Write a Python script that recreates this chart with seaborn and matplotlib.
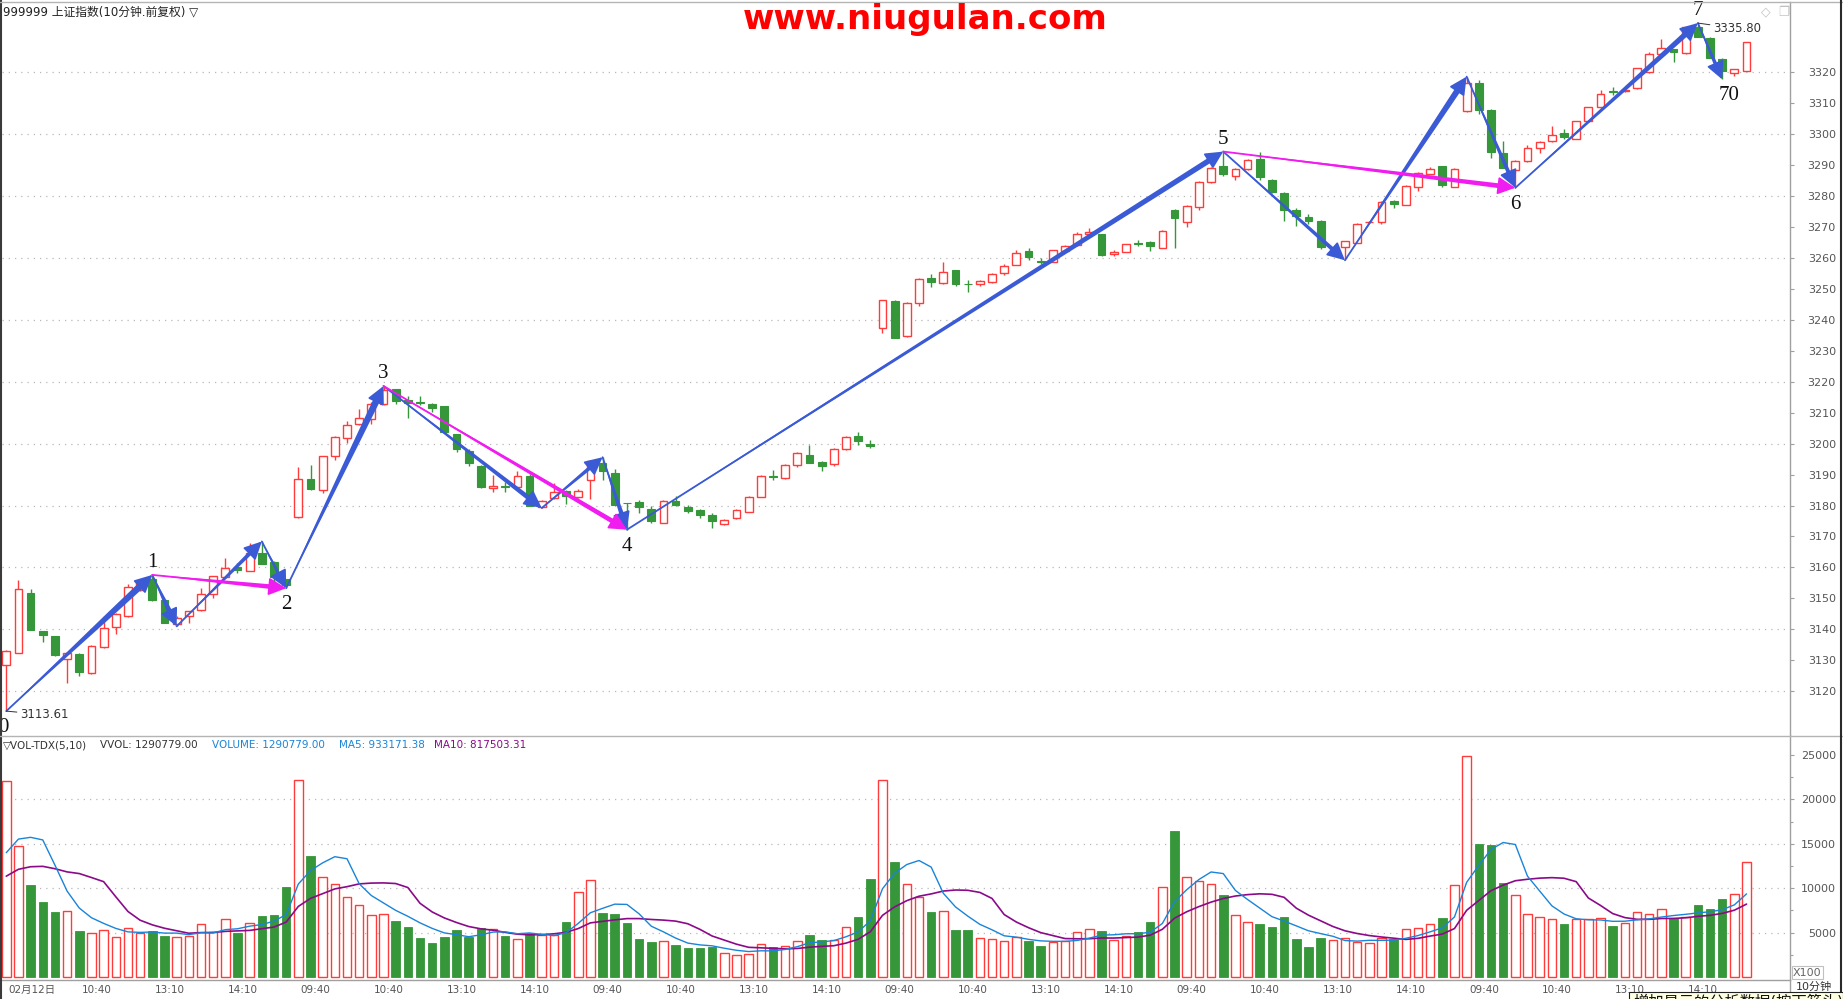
import numpy as np
import pandas as pd
import seaborn as sns
import matplotlib.pyplot as plt
from matplotlib.lines import Line2D
from matplotlib.patches import Rectangle

# ---- data (10-minute bars, 6 sessions x 24 bars) ----
opens = [3128.6, 3132.4, 3151.7, 3139.6, 3138.0, 3130.3, 3132.0, 3125.9, 3134.3, 3140.7, 3144.2, 3152.8,
         3156.3, 3149.4, 3141.8, 3144.4, 3146.3, 3151.4, 3156.9, 3160.2, 3159.0, 3164.6, 3161.9, 3156.2,
         3176.2, 3188.5, 3185.1, 3195.9, 3201.7, 3206.2, 3207.8, 3212.8, 3217.5, 3214.1, 3213.4, 3212.8,
         3212.0, 3203.0, 3197.7, 3192.9, 3185.7, 3186.2, 3185.9, 3189.6, 3179.5, 3182.4, 3184.8, 3182.7,
         3188.3, 3193.8, 3190.6, 3180.9, 3181.0, 3179.0, 3174.4, 3181.6, 3179.4, 3178.7, 3177.1, 3174.1,
         3176.0, 3178.0, 3182.9, 3189.5, 3188.9, 3193.1, 3196.3, 3194.2, 3193.4, 3198.2, 3202.5, 3200.0,
         3237.3, 3245.9, 3234.7, 3245.3, 3253.4, 3251.8, 3256.0, 3251.6, 3251.6, 3252.2, 3255.2, 3257.8,
         3262.1, 3259.1, 3258.7, 3262.1, 3264.0, 3267.8, 3267.6, 3261.1, 3262.0, 3264.7, 3265.1, 3263.3,
         3275.5, 3271.7, 3276.4, 3284.5, 3289.5, 3286.3, 3288.7, 3291.8, 3285.2, 3281.0, 3275.5, 3273.2,
         3271.9, 3263.1, 3263.5, 3264.9, 3271.4, 3271.6, 3278.5, 3277.2, 3282.9, 3287.2, 3289.6, 3283.0,
         3307.3, 3316.5, 3307.7, 3294.0, 3288.5, 3291.2, 3295.6, 3297.6, 3300.2, 3298.5, 3304.1, 3308.6,
         3313.8, 3313.7, 3314.7, 3320.0, 3325.7, 3327.3, 3326.0, 3334.5, 3330.9, 3324.2, 3319.6, 3320.4]
highs = [3133.4, 3156.0, 3153.0, 3139.6, 3138.0, 3132.7, 3132.4, 3134.9, 3144.2, 3145.2, 3154.7, 3156.0,
         3157.6, 3149.6, 3144.2, 3146.1, 3153.3, 3157.3, 3163.0, 3161.3, 3167.9, 3168.4, 3162.1, 3156.4,
         3192.6, 3193.1, 3196.1, 3202.4, 3207.3, 3211.1, 3213.5, 3218.6, 3217.7, 3215.4, 3215.4, 3213.2,
         3212.2, 3203.2, 3198.3, 3193.1, 3190.0, 3187.5, 3191.3, 3190.2, 3181.7, 3187.2, 3185.0, 3185.4,
         3194.7, 3195.6, 3191.8, 3180.9, 3181.8, 3180.0, 3181.7, 3183.1, 3180.2, 3178.9, 3177.6, 3175.5,
         3178.8, 3183.0, 3189.8, 3191.6, 3193.3, 3197.2, 3199.7, 3194.4, 3198.5, 3202.4, 3203.7, 3201.0,
         3246.4, 3246.4, 3245.6, 3253.5, 3254.7, 3258.6, 3256.2, 3252.7, 3252.8, 3255.1, 3257.9, 3262.5,
         3263.2, 3259.8, 3262.6, 3264.0, 3268.3, 3269.5, 3267.8, 3262.4, 3264.6, 3265.9, 3265.3, 3269.0,
         3275.7, 3276.9, 3284.8, 3289.2, 3294.3, 3288.9, 3291.8, 3294.1, 3285.4, 3281.2, 3276.0, 3274.2,
         3272.2, 3263.6, 3265.5, 3271.2, 3272.0, 3278.4, 3278.7, 3283.5, 3287.6, 3289.4, 3289.8, 3288.9,
         3318.5, 3317.4, 3307.9, 3297.7, 3291.5, 3296.3, 3297.7, 3302.7, 3301.6, 3304.3, 3308.8, 3314.2,
         3315.3, 3314.4, 3321.4, 3326.3, 3330.7, 3327.5, 3334.6, 3335.8, 3331.4, 3324.4, 3321.1, 3329.8]
lows = [3113.61, 3132.4, 3139.7, 3135.8, 3131.5, 3122.7, 3124.8, 3125.6, 3134.0, 3138.6, 3144.0, 3152.5,
        3149.2, 3142.0, 3141.0, 3142.0, 3146.1, 3150.1, 3156.7, 3158.2, 3158.8, 3161.0, 3154.7, 3153.3,
        3176.0, 3185.1, 3184.1, 3194.6, 3200.3, 3206.0, 3206.2, 3212.6, 3212.7, 3208.2, 3212.5, 3210.3,
        3203.8, 3197.4, 3192.9, 3185.7, 3184.3, 3184.3, 3185.5, 3179.8, 3179.2, 3182.2, 3180.5, 3182.5,
        3182.2, 3188.1, 3180.3, 3172.2, 3177.5, 3174.3, 3174.2, 3180.0, 3177.5, 3175.9, 3172.8, 3173.8,
        3175.6, 3177.8, 3182.7, 3188.1, 3188.7, 3192.4, 3193.6, 3191.1, 3192.7, 3198.0, 3199.7, 3198.5,
        3235.6, 3234.0, 3234.5, 3244.4, 3250.5, 3251.6, 3251.0, 3248.9, 3250.9, 3251.8, 3254.6, 3257.6,
        3259.2, 3257.9, 3258.5, 3261.9, 3263.8, 3266.8, 3260.6, 3260.7, 3261.8, 3263.8, 3262.1, 3263.1,
        3263.2, 3270.1, 3275.3, 3284.3, 3286.3, 3285.2, 3288.5, 3285.2, 3281.0, 3272.0, 3270.3, 3270.9,
        3263.0, 3262.9, 3259.2, 3264.7, 3271.1, 3271.0, 3276.2, 3277.0, 3281.6, 3287.0, 3282.9, 3282.8,
        3307.1, 3306.3, 3292.1, 3289.0, 3282.6, 3291.0, 3294.0, 3297.4, 3298.4, 3298.3, 3303.9, 3308.4,
        3312.7, 3313.5, 3314.5, 3319.8, 3325.5, 3323.3, 3325.8, 3331.2, 3324.4, 3317.6, 3318.8, 3320.2]
closes = [3132.9, 3153.0, 3139.7, 3138.1, 3131.7, 3132.4, 3126.1, 3134.7, 3140.4, 3144.9, 3153.7, 3155.3,
          3149.4, 3142.0, 3143.7, 3145.9, 3151.4, 3157.1, 3159.8, 3159.3, 3164.6, 3161.2, 3156.9, 3154.4,
          3188.5, 3185.3, 3195.9, 3202.2, 3205.9, 3208.2, 3212.8, 3217.3, 3213.9, 3213.0, 3213.0, 3211.4,
          3203.9, 3198.1, 3193.7, 3186.1, 3186.3, 3185.9, 3189.6, 3179.8, 3181.5, 3184.5, 3183.0, 3184.8,
          3194.5, 3191.1, 3180.3, 3180.7, 3179.5, 3174.9, 3181.5, 3180.1, 3178.3, 3176.9, 3175.1, 3175.3,
          3178.6, 3182.8, 3189.6, 3189.3, 3193.1, 3197.0, 3193.8, 3192.7, 3198.3, 3202.2, 3200.8, 3199.2,
          3246.4, 3234.0, 3245.4, 3253.3, 3252.2, 3255.5, 3251.4, 3251.5, 3252.6, 3254.7, 3257.3, 3261.4,
          3260.3, 3258.7, 3262.4, 3263.8, 3267.6, 3268.3, 3260.8, 3262.0, 3264.4, 3264.5, 3263.9, 3268.7,
          3272.7, 3276.7, 3284.6, 3289.0, 3287.0, 3288.7, 3291.6, 3286.0, 3281.1, 3275.3, 3273.5, 3272.0,
          3263.4, 3263.3, 3265.3, 3271.0, 3271.7, 3278.1, 3277.4, 3283.3, 3287.4, 3288.8, 3283.6, 3288.7,
          3316.5, 3307.7, 3294.2, 3289.0, 3291.3, 3295.3, 3297.5, 3299.8, 3299.1, 3304.1, 3308.6, 3312.8,
          3313.6, 3314.2, 3321.2, 3325.7, 3327.7, 3326.3, 3334.5, 3331.4, 3324.6, 3320.3, 3320.9, 3329.6]
# volume in units of x100 (axis units)
volumes = [22060, 14750, 10390, 8440, 7320, 7430, 5220, 4950, 5250, 4500, 5480, 4920,
           5180, 4620, 4500, 4620, 5970, 5070, 6490, 4990, 6080, 6870, 7020, 10170,
           22180, 13620, 11260, 10470, 9010, 8110, 6980, 7090, 6300, 5670, 4430, 3860,
           4540, 5330, 4500, 5520, 5400, 4650, 4280, 4920, 4730, 4730, 6230, 9570,
           10900, 7200, 7090, 6080, 4280, 3940, 4010, 3600, 3260, 3260, 3410, 2660,
           2440, 2550, 3680, 3380, 3450, 4010, 4730, 4170, 4130, 5590, 6750, 11030,
           22140, 12950, 10430, 9010, 7320, 7390, 5290, 5290, 4350, 4240, 4010, 4540,
           4050, 3490, 3980, 4010, 5030, 5370, 5180, 4170, 4580, 5070, 6190, 10130,
           16470, 11260, 10810, 10430, 9230, 6980, 6150, 5970, 5630, 6750, 4280, 3380,
           4390, 4130, 4350, 3940, 3830, 4350, 4280, 5370, 5480, 5930, 6640, 10360,
           24880, 15010, 14860, 10580, 9230, 7050, 6720, 6490, 5970, 6530, 6490, 6600,
           5740, 6040, 7280, 7050, 7620, 6600, 6720, 8110, 7650, 8780, 9340, 12908]
# last bars of the previous session, only used to start the moving averages
volumes_prev = [7000, 7500, 8000, 10000, 11000, 7100, 9400, 9900, 21500]

# zigzag turning points (bar index) and their labels
zz_idx = [0, 12, 14, 21, 23, 31, 44, 49, 51, 100, 110, 120, 124, 139, 141]
zz_kind = ['L', 'H', 'L', 'H', 'L', 'H', 'L', 'H', 'L', 'H', 'L', 'H', 'L', 'H', 'L']
magenta_pairs = [(12, 23), (31, 51), (100, 124)]
wave_labels = {0: '0', 12: '1', 23: '2', 31: '3', 51: '4', 100: '5', 124: '6', 139: '7', 141: '70'}

tick_idx = list(range(0, 144, 6))
tick_lbl = ['02月12日', '10:40', '13:10', '14:10'] + ['09:40', '10:40', '13:10', '14:10'] * 5

RED = '#ff3b3b'
GREEN = '#36963a'
BLUE = '#3b5bd6'
MAG = '#f01cf0'

W, H = 1843, 999


def fx(px):
    return px / W


def fy(py):
    return 1 - py / H


sns.set_style('white')
plt.rcParams['font.family'] = ['DejaVu Sans', 'Noto Sans CJK SC']

fig = plt.figure(figsize=(W / 100, H / 100), dpi=100, facecolor='white')
ax = fig.add_axes([fx(2), fy(735), fx(1790) - fx(2), fy(2) - fy(735)])
axv = fig.add_axes([fx(2), fy(980), fx(1790) - fx(2), fy(735) - fy(980)])

o, h, l, c = map(np.array, (opens, highs, lows, closes))
idx = np.arange(len(o))
up = c >= o
bot = np.minimum(o, c)
bh = np.maximum(np.abs(c - o), 0.12)

# ---- candles ----
ax.vlines(idx[up], l[up], h[up], color=RED, lw=1, zorder=2)
ax.vlines(idx[~up], l[~up], h[~up], color=GREEN, lw=1, zorder=2)
ax.bar(idx[up], bh[up], bottom=bot[up], width=0.64, facecolor='white', edgecolor=RED, lw=1, zorder=3)
ax.bar(idx[~up], bh[~up], bottom=bot[~up], width=0.64, facecolor=GREEN, edgecolor=GREEN, lw=0.8, zorder=3)

for g in range(3120, 3321, 20):
    ax.axhline(g, color='#b8b8b8', lw=0.9, ls=(0, (1, 4)), zorder=1)

ax.set_xlim(-0.35, 146.57)
ax.set_ylim(3105.9, 3342.6)


def wave(ax, i0, p0, i1, p1, color, tail):
    ax.annotate('', xy=(i1, p1), xytext=(i0, p0),
                arrowprops=dict(arrowstyle='-|>,head_length=0.9,head_width=0.45', color=color,
                                lw=1.3, shrinkA=0, shrinkB=0, mutation_scale=12), zorder=6)
    ax.annotate('', xy=(i0, p0), xytext=(i1, p1),
                arrowprops=dict(arrowstyle=f'wedge,tail_width={tail},shrink_factor=0.6', color=color,
                                lw=0, shrinkA=7, shrinkB=0, mutation_scale=10), zorder=6)


def zz_price(i, k):
    return highs[i] if k == 'H' else lows[i]


wave_tail = [0.5, 0.4, 0.3, 0.25, 0.5, 0.35, 0.3, 0.35, 0.4, 0.3, 0.45, 0.3, 0.4, 0.3]
for s in range(len(zz_idx) - 1):
    i0, i1 = zz_idx[s], zz_idx[s + 1]
    wave(ax, i0, zz_price(i0, zz_kind[s]), i1, zz_price(i1, zz_kind[s + 1]), BLUE, wave_tail[s])

for i0, i1 in magenta_pairs:
    k0 = zz_kind[zz_idx.index(i0)]
    k1 = zz_kind[zz_idx.index(i1)]
    wave(ax, i0, zz_price(i0, k0), i1, zz_price(i1, k1), MAG, 0.35)

for i, txt in wave_labels.items():
    k = zz_kind[zz_idx.index(i)]
    if k == 'H':
        ax.annotate(txt, xy=(i, highs[i]), xytext=(0, 2), textcoords='offset points', ha='center',
                    va='bottom', fontsize=15, family='Liberation Serif', color='#111111', zorder=7)
    else:
        dx = 5 if txt == '70' else (-2 if txt == '0' else 0)
        ax.annotate(txt, xy=(i, lows[i]), xytext=(dx, -5), textcoords='offset points', ha='center',
                    va='top', fontsize=15, family='Liberation Serif', color='#111111', zorder=7)

ax.annotate(f'{lows[0]:.2f}', xy=(0, lows[0]), xytext=(10, -2.5), textcoords='offset points',
            ha='left', va='center', fontsize=8.5, color='#333333',
            arrowprops=dict(arrowstyle='-', color='#333333', lw=0.7, shrinkA=0, shrinkB=0), zorder=7)
ax.annotate(f'{highs[139]:.2f}', xy=(139, highs[139]), xytext=(11, -4), textcoords='offset points',
            ha='left', va='center', fontsize=8.5, color='#333333',
            arrowprops=dict(arrowstyle='-', color='#333333', lw=0.7, shrinkA=0, shrinkB=0), zorder=7)

ax.set_yticks(np.arange(3120, 3321, 10))
ax.yaxis.tick_right()
ax.set_xticks([])
ax.tick_params(axis='y', length=3, width=0.8, color='#a0a0a0', labelsize=8, labelcolor='#555555', pad=30)
for t in ax.get_yticklabels():
    t.set_horizontalalignment('right')
for sp in ['top', 'left', 'bottom']:
    ax.spines[sp].set_visible(False)
ax.spines['right'].set_color('#a0a0a0')
ax.spines['right'].set_linewidth(1)

# ---- volume ----
v = np.array(volumes, dtype=float)
axv.bar(idx[up], v[up], width=0.7, facecolor='white', edgecolor=RED, lw=1, zorder=3)
axv.bar(idx[~up], v[~up], width=0.7, facecolor=GREEN, edgecolor=GREEN, lw=0.6, zorder=3)

vs = pd.Series(volumes_prev + volumes, dtype=float)
ma5 = vs.rolling(5).mean().iloc[len(volumes_prev):].to_numpy()
ma10 = vs.rolling(10).mean().iloc[len(volumes_prev):].to_numpy()
sns.lineplot(x=idx, y=ma10, ax=axv, color='#8a0a8a', lw=1.2, zorder=4)
sns.lineplot(x=idx, y=ma5, ax=axv, color='#1a84d8', lw=1.0, zorder=5)

for g in range(5000, 20001, 5000):
    axv.axhline(g, color='#b8b8b8', lw=0.9, ls=(0, (1, 4)), zorder=1)

axv.set_xlim(-0.35, 146.57)
axv.set_ylim(-338, 27237)
axv.yaxis.tick_right()
axv.set_yticks(range(5000, 25001, 5000))
axv.set_yticklabels([str(t) for t in range(5000, 25001, 5000)])
axv.set_yticks(range(2500, 25001, 5000), minor=True)
axv.tick_params(axis='y', which='major', length=3, width=0.8, color='#a0a0a0', labelsize=8,
                labelcolor='#555555', pad=30)
axv.tick_params(axis='y', which='minor', length=2, width=0.8, color='#a0a0a0')
for t in axv.get_yticklabels():
    t.set_horizontalalignment('right')

axv.set_xticks(tick_idx)
axv.set_xticklabels([''] * len(tick_idx))
axv.set_xticks([t + 3 for t in tick_idx], minor=True)
axv.tick_params(axis='x', which='major', direction='out', length=14, width=0.8, color='#c8c8c8')
axv.tick_params(axis='x', which='minor', direction='out', length=3, width=0.8, color='#c8c8c8')
for t, s in zip(tick_idx, tick_lbl):
    axv.annotate(s, xy=(t - 0.1, 0), xycoords=('data', 'axes fraction'), xytext=(2.5, -3.5),
                 textcoords='offset points', ha='left', va='top', fontsize=7.5, color='#555555',
                 annotation_clip=False)
for sp in ['top', 'left']:
    axv.spines[sp].set_visible(False)
for sp in ['right', 'bottom']:
    axv.spines[sp].set_color('#a0a0a0')
    axv.spines[sp].set_linewidth(1)
axv.set_xlabel('')
axv.set_ylabel('')

# ---- frame lines and header texts ----
fig.add_artist(Line2D([fx(1), fx(1)], [0, 1], color='#3a3a3a', lw=1.5))
fig.add_artist(Line2D([0, 1], [fy(2), fy(2)], color='#b4b4b4', lw=1))
fig.add_artist(Line2D([0, fx(1842)], [fy(735.5), fy(735.5)], color='#b4b4b4', lw=1))
fig.add_artist(Line2D([fx(1841), fx(1841)], [0, 1], color='#2a2a2a', lw=1.5))
fig.add_artist(Line2D([fx(1790), fx(1790)], [0, fy(980)], color='#a0a0a0', lw=1))

fig.text(fx(3), fy(12), '999999 上证指数(10分钟.前复权) ▽', fontsize=8.5, color='#222222', va='center', ha='left')
fig.text(fx(925), fy(20), 'www.niugulan.com', fontsize=24.5, fontweight='heavy', color='#ff0000',
         ha='center', va='center')
fig.text(fx(1766), fy(12), '◇', fontsize=9, color='#c0c0c0', ha='center', va='center')
fig.text(fx(1784), fy(12), '❐', fontsize=9, color='#c0c0c0', ha='center', va='center')

fig.text(fx(3), fy(745), '▽VOL-TDX(5,10)', fontsize=7.5, color='#333333', va='center')
fig.text(fx(100), fy(745), 'VVOL: 1290779.00', fontsize=7.5, color='#333333', va='center')
fig.text(fx(212), fy(745), 'VOLUME: 1290779.00', fontsize=7.5, color='#1a84d8', va='center')
fig.text(fx(339), fy(745), 'MA5: 933171.38', fontsize=7.5, color='#1a84d8', va='center')
fig.text(fx(434), fy(745), 'MA10: 817503.31', fontsize=7.5, color='#8a0a8a', va='center')

fig.add_artist(Rectangle((fx(1792), fy(979)), fx(31), fy(966) - fy(979), facecolor='white',
                         edgecolor='#c0c0c0', lw=0.8))
fig.text(fx(1807), fy(972.5), 'X100', fontsize=8, color='#666666', ha='center', va='center')
fig.text(fx(1796), fy(982), '10分钟', fontsize=8, color='#333333', ha='left', va='top')
fig.add_artist(Rectangle((fx(1629), fy(1010)), fx(214), fy(992) - fy(1010), facecolor='#ffffe1',
                         edgecolor='#222222', lw=0.8, zorder=5))
fig.text(fx(1633), fy(994), '增加显示的分析数据(按下箭头)', fontsize=11, color='#111111', ha='left', va='top',
         zorder=6)

fig.savefig('out.png', dpi=100)
